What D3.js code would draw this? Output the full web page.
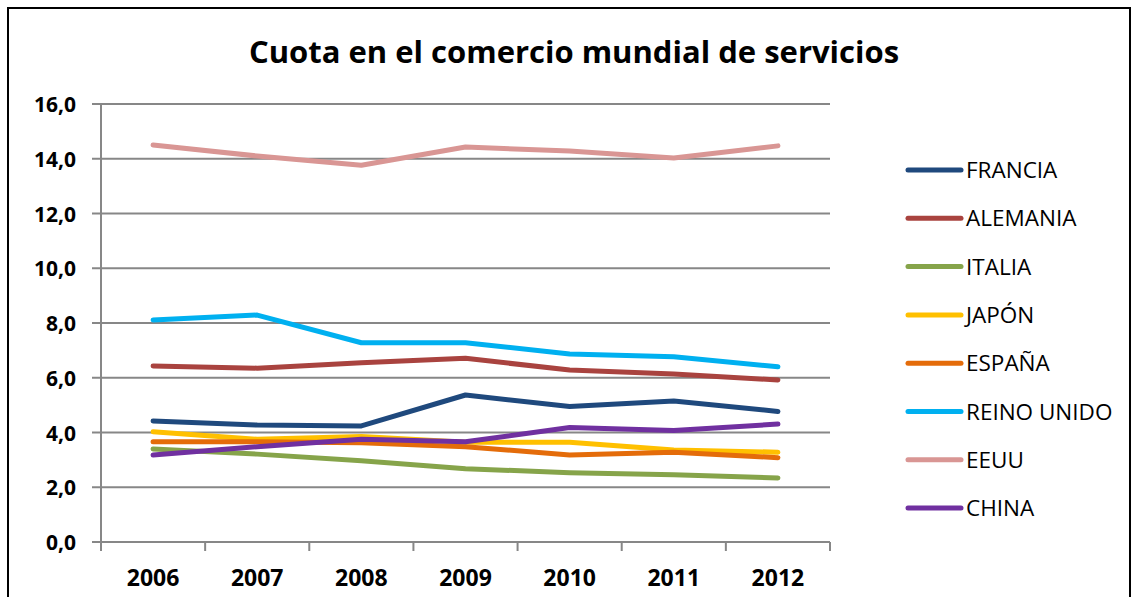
<!DOCTYPE html>
<html>
<head>
<meta charset="utf-8">
<script src="https://cdn.jsdelivr.net/npm/d3@7/dist/d3.min.js"></script>
<style>
  body { margin: 0; background: #fff; }
  text { font-family: "Open Sans", "Noto Sans", sans-serif; }
</style>
</head>
<body>
<script>
var years = ["2006", "2007", "2008", "2009", "2010", "2011", "2012"];
var countries = ["FRANCIA", "ALEMANIA", "ITALIA", "JAPÓN", "ESPAÑA", "REINO UNIDO", "EEUU", "CHINA"];
var colors = ["#1f497d", "#a9433f", "#86a44a", "#ffc000", "#e46c0a", "#00b0f0", "#d99694", "#7030a0"];
var francia = [4.42, 4.27, 4.24, 5.37, 4.95, 5.15, 4.77];
var alemania = [6.43, 6.35, 6.55, 6.71, 6.28, 6.14, 5.92];
var italia = [3.40, 3.21, 2.97, 2.68, 2.53, 2.46, 2.34];
var japon = [4.03, 3.75, 3.85, 3.64, 3.64, 3.36, 3.28];
var espana = [3.66, 3.66, 3.63, 3.48, 3.18, 3.28, 3.08];
var reinoUnido = [8.11, 8.29, 7.28, 7.28, 6.87, 6.77, 6.40];
var eeuu = [14.50, 14.10, 13.76, 14.43, 14.28, 14.03, 14.47];
var china = [3.18, 3.48, 3.75, 3.66, 4.18, 4.07, 4.31];
var series = [francia, alemania, italia, japon, espana, reinoUnido, eeuu, china];
var yTicks = [0, 2, 4, 6, 8, 10, 12, 14, 16];

var width = 1134, height = 597;
var plotLeft = 101, plotRight = 830, plotTop = 104, plotBottom = 542;

var svg = d3.select("body").append("svg")
    .attr("width", width)
    .attr("height", height);

// chart frame
svg.append("rect")
    .attr("x", 8).attr("y", 8)
    .attr("width", 1122).attr("height", 620)
    .attr("fill", "none")
    .attr("stroke", "#000")
    .attr("stroke-width", 2);

svg.append("text")
    .attr("x", 574).attr("y", 63)
    .attr("text-anchor", "middle")
    .attr("font-size", "31px")
    .attr("font-weight", "bold")
    .text("Cuota en el comercio mundial de servicios");

var x = d3.scaleBand().domain(years).range([plotLeft, plotRight]);
var y = d3.scaleLinear().domain([0, 16]).range([plotBottom, plotTop]);

// gridlines
svg.append("g").selectAll("line")
    .data(yTicks)
    .enter()
    .append("line")
    .attr("x1", plotLeft - 9).attr("x2", plotRight)
    .attr("y1", function(d) { return y(d); })
    .attr("y2", function(d) { return y(d); })
    .attr("stroke", "#878787")
    .attr("stroke-width", 2);

// y axis line
svg.append("line")
    .attr("x1", plotLeft).attr("x2", plotLeft)
    .attr("y1", plotTop).attr("y2", plotBottom)
    .attr("stroke", "#878787").attr("stroke-width", 2);

// x tick marks at band edges
var edges = years.map(function(d) { return x(d); }).concat([plotRight]);
svg.append("g").selectAll("line")
    .data(edges)
    .enter()
    .append("line")
    .attr("x1", function(d) { return d; })
    .attr("x2", function(d) { return d; })
    .attr("y1", plotBottom).attr("y2", plotBottom + 9)
    .attr("stroke", "#878787").attr("stroke-width", 2);

svg.append("g").selectAll("text")
    .data(yTicks)
    .enter()
    .append("text")
    .attr("x", 76)
    .attr("y", function(d) { return y(d) + 8; })
    .attr("text-anchor", "end")
    .attr("font-size", "21px")
    .attr("font-weight", "bold")
    .text(function(d) { return d3.format(".1f")(d).replace(".", ","); });

svg.append("g").selectAll("text")
    .data(years)
    .enter()
    .append("text")
    .attr("x", function(d) { return x(d) + x.bandwidth() / 2; })
    .attr("y", 586)
    .attr("text-anchor", "middle")
    .attr("font-size", "23px")
    .attr("font-weight", "bold")
    .text(function(d) { return d; });

var line = d3.line()
    .x(function(d, i) { return x(years[i]) + x.bandwidth() / 2; })
    .y(function(d) { return y(d); });

svg.append("g").selectAll("path")
    .data(series)
    .enter()
    .append("path")
    .attr("d", line)
    .attr("fill", "none")
    .attr("stroke", function(d, i) { return colors[i]; })
    .attr("stroke-width", 5)
    .attr("stroke-linecap", "round")
    .attr("stroke-linejoin", "round");

// legend
var legend = svg.append("g").selectAll("g")
    .data(countries)
    .enter()
    .append("g")
    .attr("transform", function(d, i) { return "translate(0," + (170 + i * 48.3) + ")"; });

legend.append("line")
    .attr("x1", 908).attr("x2", 961)
    .attr("stroke", function(d, i) { return colors[i]; })
    .attr("stroke-width", 5)
    .attr("stroke-linecap", "round");

legend.append("text")
    .attr("x", 966).attr("y", 8)
    .attr("font-size", "22.5px")
    .text(function(d) { return d; });
</script>
</body>
</html>
